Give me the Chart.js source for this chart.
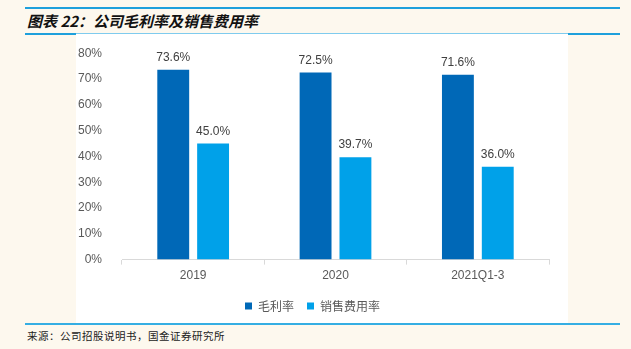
<!DOCTYPE html>
<html>
<head>
<meta charset="utf-8">
<script src="https://cdn.jsdelivr.net/npm/chart.js@4"></script>
<style>
  body { margin: 0; width: 631px; height: 349px; background: #fdf8ee; position: relative; overflow: hidden; font-family: "Liberation Sans", Arial, sans-serif; }
  .topline { position: absolute; left: 25px; top: 7px; width: 595px; height: 2px; background: #1ea0dc; }
  .title { position: absolute; left: 27px; top: 10px; font-family: "Noto Sans CJK SC"; font-size: 15px; font-weight: bold; font-style: italic; color: #111; }
  .midline { position: absolute; left: 25px; top: 33px; width: 595px; height: 2px; background: #1ea0dc; }
  .midline2 { position: absolute; left: 76px; top: 33px; width: 492px; height: 1px; background: #7fcbee; }
  .panel { position: absolute; left: 76px; top: 34px; width: 492px; height: 289px; background: #fff; }
  .botline { position: absolute; left: 25px; top: 323px; width: 595px; height: 2px; background: #35aee3; }
  .source { position: absolute; left: 27px; top: 328px; font-family: "Noto Sans CJK SC"; font-size: 10.5px; letter-spacing: 0.5px; color: #222; }
</style>
</head>
<body>
<div class="topline"></div>
<div class="title">图表 22：公司毛利率及销售费用率</div>
<div class="midline"></div>
<div class="panel"><canvas id="myChart" width="492" height="289"></canvas></div>
<div class="midline2"></div>
<div class="botline"></div>
<div class="source">来源：公司招股说明书，国金证券研究所</div>
<script>
const labels = ['2019', '2020', '2021Q1-3'];
const grossMargin = [73.6, 72.5, 71.6];
const sellingExpense = [45.0, 39.7, 36.0];

// draws the value above each bar
const valueLabels = {
  id: 'valueLabels',
  afterDatasetsDraw(chart) {
    const ctx = chart.ctx;
    ctx.save();
    ctx.font = '12px "Liberation Sans", Arial, sans-serif';
    ctx.fillStyle = '#404040';
    ctx.textAlign = 'center';
    ctx.textBaseline = 'bottom';
    chart.data.datasets.forEach((ds, i) => {
      chart.getDatasetMeta(i).data.forEach((bar, j) => {
        ctx.fillText(ds.data[j].toFixed(1) + '%', bar.x, bar.y - 6);
      });
    });
    ctx.restore();
  }
};

const ctx = document.getElementById('myChart').getContext('2d');
const chart = new Chart(ctx, {
  type: 'bar',
  data: {
    labels: labels,
    datasets: [{
      label: '毛利率',
      backgroundColor: '#0068b7',
      data: grossMargin
    }, {
      label: '销售费用率',
      backgroundColor: '#00a1e9',
      data: sellingExpense
    }]
  },
  options: {
    responsive: false,
    animation: false,
    layout: { padding: { left: 0, right: 19, top: 18, bottom: 1 } },
    datasets: {
      bar: { categoryPercentage: 0.56, barPercentage: 0.8 }
    },
    scales: {
      x: {
        grid: { drawOnChartArea: false, color: '#d9d9d9', tickLength: 5 },
        border: { color: '#d9d9d9' },
        ticks: { color: '#595959', font: { size: 12, family: '"Liberation Sans", Arial, sans-serif' }, padding: 4 }
      },
      y: {
        min: 0,
        max: 80,
        afterFit: scale => { scale.width = 46; },
        grid: { display: false },
        border: { display: false },
        ticks: {
          stepSize: 10,
          color: '#595959',
          padding: 12,
          font: { size: 12, family: '"Liberation Sans", Arial, sans-serif' },
          callback: v => v + '%'
        }
      }
    },
    plugins: {
      legend: {
        position: 'bottom',
        labels: {
          boxWidth: 7,
          boxHeight: 7,
          padding: 13,
          color: '#595959',
          font: { size: 12, family: '"Noto Sans CJK SC"' }
        }
      },
      tooltip: { enabled: false }
    }
  },
  plugins: [valueLabels]
});
</script>
</body>
</html>
